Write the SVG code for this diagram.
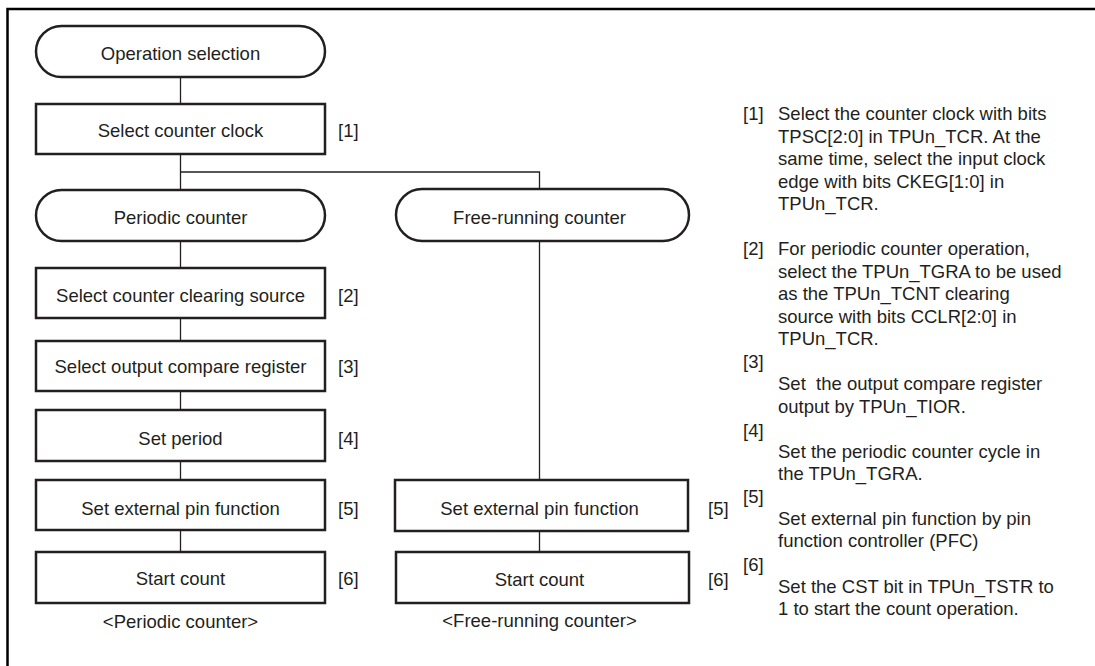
<svg xmlns="http://www.w3.org/2000/svg" width="1095" height="666" viewBox="0 0 1095 666">
<style>
text{font-family:"Liberation Sans",Arial,sans-serif;font-size:18.5px;fill:#231f20}
.c{text-anchor:middle}
.box{fill:#fff;stroke:#231f20;stroke-width:2.5}
.ln{fill:none;stroke:#231f20;stroke-width:1.3}
.frame{fill:none;stroke:#000;stroke-width:2.5}
</style>
<rect width="1095" height="666" fill="#fff"/>
<path class="frame" d="M7.5,666 V9 H1095"/>
<g id="connectors">
<path class="ln" d="M180.5,77 V104"/>
<path class="ln" d="M180.5,154 V190"/>
<path class="ln" d="M180.5,172 H539.5 V189"/>
<path class="ln" d="M180.5,241 V268"/>
<path class="ln" d="M180.5,318 V341"/>
<path class="ln" d="M180.5,391 V410"/>
<path class="ln" d="M180.5,461 V480"/>
<path class="ln" d="M180.5,530 V552"/>
<path class="ln" d="M539.5,241 V480"/>
<path class="ln" d="M539.5,531 V552"/>
</g>
<g id="op"><rect class="box" x="36" y="26" width="289" height="51" rx="25.5"/><text class="c" x="180.5" y="60">Operation selection</text></g>
<g id="clock"><rect class="box" x="36" y="104" width="289" height="50"/><text class="c" x="180.5" y="137">Select counter clock</text><text x="338" y="137">[1]</text></g>
<g id="periodic"><rect class="box" x="36" y="190" width="289" height="51" rx="25.5"/><text class="c" x="180.5" y="224">Periodic counter</text></g>
<g id="clearing"><rect class="box" x="36" y="268" width="289" height="50"/><text class="c" x="180.5" y="301.5">Select counter clearing source</text><text x="338" y="301.5">[2]</text></g>
<g id="compare"><rect class="box" x="36" y="341" width="289" height="50"/><text class="c" x="180.5" y="372.5">Select output compare register</text><text x="338" y="372.5">[3]</text></g>
<g id="period"><rect class="box" x="36" y="410" width="289" height="51"/><text class="c" x="180.5" y="445">Set period</text><text x="338" y="445">[4]</text></g>
<g id="extpin"><rect class="box" x="36" y="480" width="289" height="50"/><text class="c" x="180.5" y="515">Set external pin function</text><text x="338" y="515">[5]</text></g>
<g id="start"><rect class="box" x="36" y="552" width="289" height="51"/><text class="c" x="180.5" y="585">Start count</text><text x="338" y="585">[6]</text></g>
<g id="periodic-caption"><text class="c" x="180.5" y="628">&lt;Periodic counter&gt;</text></g>
<g id="free"><rect class="box" x="396" y="189" width="293" height="52" rx="26"/><text class="c" x="539.5" y="224">Free-running counter</text></g>
<g id="free-extpin"><rect class="box" x="395" y="480" width="293" height="51"/><text class="c" x="539.5" y="514.5">Set external pin function</text><text x="708" y="514.5">[5]</text></g>
<g id="free-start"><rect class="box" x="396" y="552" width="293" height="51"/><text class="c" x="539.5" y="585.5">Start count</text><text x="708" y="585.5">[6]</text></g>
<g id="free-caption"><text class="c" x="539.5" y="627">&lt;Free-running counter&gt;</text></g>
<g id="notes">
<text x="743" y="120">[1]</text>
<text x="778" y="120">Select the counter clock with bits</text>
<text x="778" y="142.5">TPSC[2:0] in TPUn_TCR. At the</text>
<text x="778" y="165">same time, select the input clock</text>
<text x="778" y="187.5">edge with bits CKEG[1:0] in</text>
<text x="778" y="210">TPUn_TCR.</text>
<text x="743" y="255">[2]</text>
<text x="778" y="255">For periodic counter operation,</text>
<text x="778" y="277.5">select the TPUn_TGRA to be used</text>
<text x="778" y="300">as the TPUn_TCNT clearing</text>
<text x="778" y="322.5">source with bits CCLR[2:0] in</text>
<text x="778" y="345">TPUn_TCR.</text>
<text x="743" y="368">[3]</text>
<text x="778" y="389.5" xml:space="preserve">Set  the output compare register</text>
<text x="778" y="412.5">output by TPUn_TIOR.</text>
<text x="743" y="436.5">[4]</text>
<text x="778" y="457.5">Set the periodic counter cycle in</text>
<text x="778" y="480">the TPUn_TGRA.</text>
<text x="743" y="502.5">[5]</text>
<text x="778" y="525">Set external pin function by pin</text>
<text x="778" y="547">function controller (PFC)</text>
<text x="743" y="570.5">[6]</text>
<text x="778" y="593">Set the CST bit in TPUn_TSTR to</text>
<text x="778" y="615">1 to start the count operation.</text>
</g>
</svg>
